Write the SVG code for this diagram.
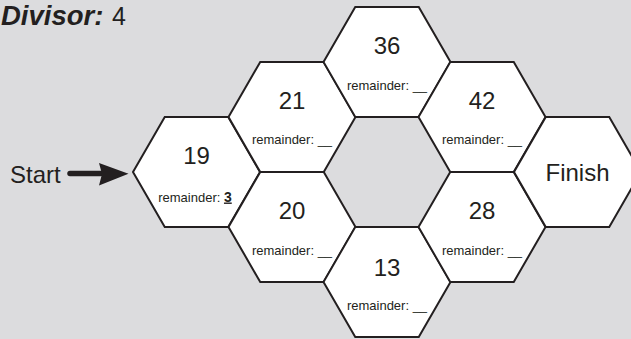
<svg xmlns="http://www.w3.org/2000/svg" xmlns:xlink="http://www.w3.org/1999/xlink" width="631" height="339" viewBox="0 0 631 339">
<style>
.hex{fill:#ffffff;stroke:#231f20;stroke-width:2;stroke-linejoin:miter}
text{font-family:"Liberation Sans",Arial,sans-serif;fill:#231f20}
.num{font-size:24px;text-anchor:middle}
.rem{font-size:13px;text-anchor:middle}
.big{font-size:24px}
</style>
<defs>
<polygon id="hx" class="hex" points="-63.5,0 -31.75,-55 31.75,-55 63.5,0 31.75,55 -31.75,55"/>
</defs>
<rect x="0" y="0" width="631" height="339" fill="#dcdcde"/>
<text x="1" y="25" font-size="27.5" font-weight="bold" font-style="italic">Divisor:</text>
<text x="112" y="25" font-size="25">4</text>
<text class="big" x="10" y="183">Start</text>
<g id="connectors">
<line x1="70" y1="173.5" x2="101" y2="173.5" stroke="#231f20" stroke-width="5.5" stroke-linecap="round"/>
<polygon points="99,163 128.5,173.8 99,185.5 102,174" fill="#231f20"/>
</g>
<g id="n19"><use xlink:href="#hx" x="196.5" y="172"/><text class="num" x="196.5" y="164">19</text><text class="rem" x="195" y="201.5">remainder: <tspan font-weight="bold" font-size="14" text-decoration="underline">3</tspan></text></g>
<g id="n21"><use xlink:href="#hx" x="292" y="117"/><text class="num" x="292" y="109">21</text><text class="rem" x="292" y="144">remainder: __</text></g>
<g id="n20"><use xlink:href="#hx" x="292" y="227"/><text class="num" x="292" y="219">20</text><text class="rem" x="292" y="255">remainder: __</text></g>
<g id="n36"><use xlink:href="#hx" x="387" y="62"/><text class="num" x="387" y="53.5">36</text><text class="rem" x="387" y="89.5">remainder: __</text></g>
<g id="n13"><use xlink:href="#hx" x="387" y="282"/><text class="num" x="387" y="276">13</text><text class="rem" x="387" y="310">remainder: __</text></g>
<g id="n42"><use xlink:href="#hx" x="482" y="117"/><text class="num" x="482" y="108.5">42</text><text class="rem" x="482" y="143.5">remainder: __</text></g>
<g id="n28"><use xlink:href="#hx" x="482" y="227"/><text class="num" x="482" y="219">28</text><text class="rem" x="482" y="255">remainder: __</text></g>
<g id="finish"><use xlink:href="#hx" x="577.5" y="172"/><text class="num" x="577.5" y="181">Finish</text></g>
</svg>
